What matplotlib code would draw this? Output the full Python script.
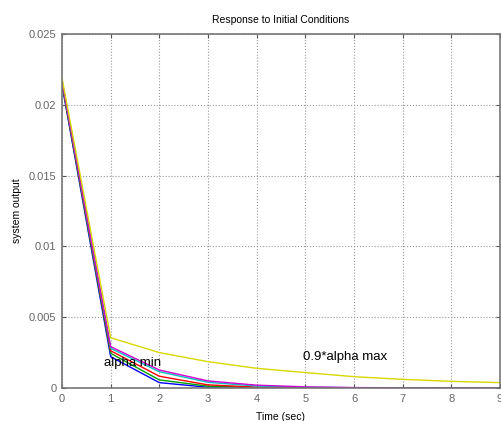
import matplotlib
matplotlib.use("Agg")
import matplotlib.pyplot as plt

plt.rcParams['font.family'] = ['Liberation Sans', 'DejaVu Sans']

time = [0, 1, 2, 3, 4, 5, 6, 7, 8, 9]
series_colors = ['#0000ff', '#00a000', '#ff0000', '#00c0c0', '#d000d0', '#d8d800']
y_blue = [0.0214, 0.00221, 0.00038, 0.00005, 0.00001, 0.0, 0.0, 0.0, 0.0, 0.0]
y_green = [0.0215, 0.00245, 0.00057, 0.00013, 0.00003, 0.00001, 0.0, 0.0, 0.0, 0.0]
y_red = [0.0216, 0.00263, 0.00083, 0.00022, 0.00006, 0.00002, 0.00001, 0.0, 0.0, 0.0]
y_cyan = [0.0217, 0.0028, 0.00115, 0.0004, 0.00014, 0.00005, 0.00002, 0.00001, 0.0, 0.0]
y_magenta = [0.0217, 0.00292, 0.00127, 0.0005, 0.0002, 0.00008, 0.00003, 0.00001, 0.0, 0.0]
y_yellow = [0.0219, 0.00355, 0.0025, 0.00186, 0.00139, 0.00109, 0.0008, 0.00061, 0.00047, 0.00038]
all_series = [y_blue, y_green, y_red, y_cyan, y_magenta, y_yellow]

fig = plt.figure(figsize=(5.01, 4.21), dpi=100)
ax = fig.add_axes([62/501, 33/421, 438/501, 354/421])

for ys, c in zip(all_series, series_colors):
    ax.plot(time, ys, color=c, linewidth=1.0)

ax.set_xlim(0, 9)
ax.set_ylim(0, 0.025)
ax.set_xticks(time)
ax.set_yticks([0, 0.005, 0.01, 0.015, 0.02, 0.025])
ax.set_yticklabels(['0', '0.005', '0.01', '0.015', '0.02', '0.025'])
ax.grid(True, color='#999999', linestyle=':', linewidth=0.8)
ax.tick_params(direction='in', length=3, labelsize=8, labelcolor='#666666',
               color='#555555', top=True, right=True, pad=4)
for s in ax.spines.values():
    s.set_color('#777777')
    s.set_linewidth(1.2)

ax.set_title('Response to Initial Conditions', fontsize=7.5, pad=8)
ax.set_xlabel('Time (sec)', fontsize=7.5, labelpad=6)
ax.set_ylabel('system output', fontsize=7.5, labelpad=5)

ax.text(0.86, 0.00178, 'alpha min', fontsize=9.5, va='center', ha='left')
ax.text(4.95, 0.00217, '0.9*alpha max', fontsize=9.5, va='center', ha='left')

fig.savefig('out.png', dpi=100)
